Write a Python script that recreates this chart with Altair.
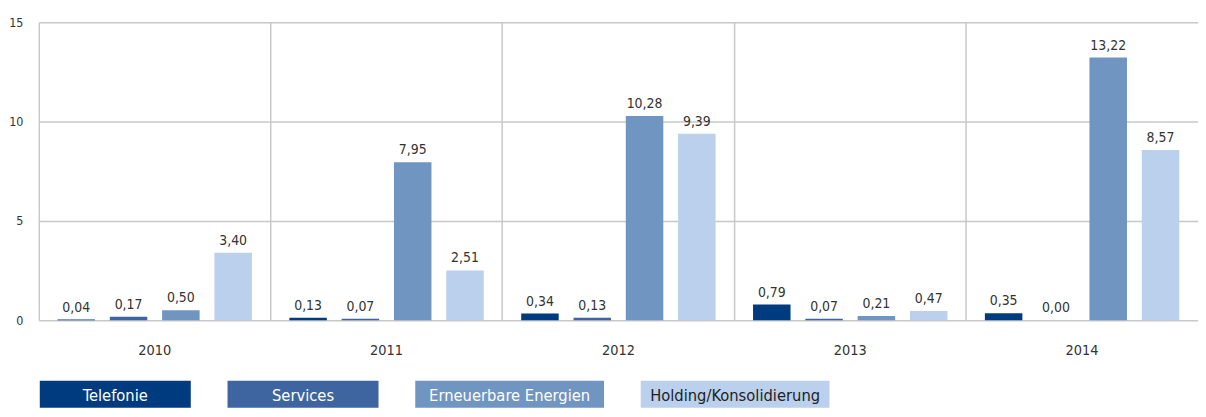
import altair as alt
import pandas as pd

years = ["2010", "2011", "2012", "2013", "2014"]
categories = ["Telefonie", "Services", "Erneuerbare Energien", "Holding/Konsolidierung"]
telefonie = [0.04, 0.13, 0.34, 0.79, 0.35]
services = [0.17, 0.07, 0.13, 0.07, 0.00]
erneuerbare = [0.50, 7.95, 10.28, 0.21, 13.22]
holding = [3.40, 2.51, 9.39, 0.47, 8.57]
y_ticks = [0, 5, 10, 15]

colors = ["#003b7f", "#3f65a1", "#7095c1", "#bad0ec"]
text_colors = ["#ffffff", "#ffffff", "#ffffff", "#222222"]

series = [telefonie, services, erneuerbare, holding]
rows = []
for cat, vals in zip(categories, series):
    for yr, v in zip(years, vals):
        rows.append({"year": yr, "cat": cat, "value": v})
df = pd.DataFrame(rows)

FONT = "DejaVu Sans Condensed, Roboto, sans-serif"
GRID = "#c8c8c8"

W = 1167  # plot width up to the page edge

color_scale = alt.Scale(domain=categories, range=colors)

base = alt.Chart(df).encode(
    x=alt.X("year:N", sort=years,
            scale=alt.Scale(paddingInner=0, paddingOuter=0),
            axis=alt.Axis(title=None, ticks=False, domain=False, labelPadding=23,
                          labelAngle=0, labelFontSize=14.5, labelFont=FONT,
                          labelColor="#333333", grid=True, bandPosition=0,
                          gridColor=GRID, gridWidth=1.5)),
    xOffset=alt.XOffset("cat:N", sort=categories,
                        scale=alt.Scale(paddingInner=0.283, paddingOuter=0.358)),
)

bars = base.mark_bar().encode(
    y=alt.Y("value:Q", scale=alt.Scale(domain=[0, 15], nice=False),
            axis=alt.Axis(title=None, values=y_ticks, ticks=False, domain=False,
                          labelPadding=16, labelFontSize=12.5, labelFont=FONT,
                          labelColor="#333333", gridColor=GRID, gridWidth=1.5)),
    color=alt.Color("cat:N", scale=color_scale, legend=None),
)

labels = base.mark_text(dy=-8, baseline="alphabetic", fontSize=14, font=FONT,
                        color="#333333").transform_calculate(
    label="replace(format(datum.value, '.2f'), '.', ',')"
).encode(
    y=alt.Y("value:Q"),
    text="label:N",
)

# legend boxes (layout only)
box_widths = [152, 152, 190, 190]
gap = 37
start = 1
leg_rows = []
x = start
for cat, w, tc in zip(categories, box_widths, text_colors):
    leg_rows.append({"cat": cat, "x0": x, "x1": x + w, "xm": x + w / 2, "tc": tc})
    x += w + gap
leg_df = pd.DataFrame(leg_rows)

lscale = alt.Scale(domain=[0, W], range=[0, W])
leg_base = alt.Chart(leg_df)
leg_rect = leg_base.mark_rect().encode(
    x=alt.X("x0:Q", scale=lscale, axis=None),
    x2="x1:Q",
    y=alt.value(361),
    y2=alt.value(388),
    color=alt.Color("cat:N", scale=color_scale, legend=None),
)
leg_text = leg_base.mark_text(fontSize=16.5, font=FONT, baseline="middle").encode(
    x=alt.X("xm:Q", scale=lscale, axis=None),
    y=alt.value(376),
    text="cat:N",
    color=alt.Color("tc:N", scale=None),
)

main = alt.layer(bars, labels)
legend = alt.layer(leg_rect, leg_text)

chart = alt.layer(main, legend).resolve_scale(x="independent").properties(
    width=W, height=300,
    autosize=alt.AutoSizeParams(type="none"),
    padding={"left": 31, "top": 13, "right": 0, "bottom": 88},
).configure_view(stroke=None)

chart.save("out.html", embed_options={"renderer": "svg", "actions": False})
